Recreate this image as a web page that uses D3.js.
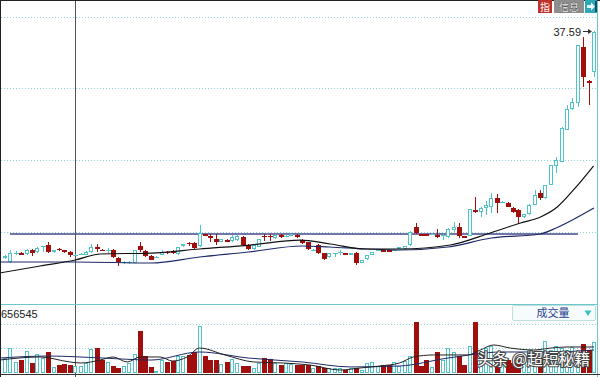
<!DOCTYPE html>
<html>
<head>
<meta charset="utf-8">
<script src="https://cdn.jsdelivr.net/npm/d3@7"></script>
<style>
body { margin: 0; background: #fff; }
svg { display: block; font-family: "Liberation Sans", Arial, sans-serif; }
</style>
</head>
<body>
<div class="chart"></div>
<script>
let FRAME_WIDTH = 600;
let FRAME_HEIGHT = 377;

// daily bars: [open, high, low, close]
let candles = [
  [8.93, 9.31, 8.80, 9.18], [8.43, 9.88, 8.30, 9.56], [9.50, 9.81, 9.31, 9.62], [9.56, 9.69, 9.31, 9.37],
  [9.44, 10.07, 9.31, 9.94], [9.94, 10.07, 9.18, 9.56], [9.69, 10.32, 9.56, 10.19], [10.26, 10.45, 9.69, 10.45],
  [10.57, 11.01, 9.56, 9.69], [9.69, 9.94, 9.56, 9.88], [10.07, 10.19, 9.81, 9.94], [9.88, 10.00, 9.62, 9.75],
  [9.69, 9.81, 9.09, 9.37], [9.25, 9.44, 9.18, 9.37], [9.31, 9.56, 9.25, 9.44], [9.31, 9.81, 9.25, 9.75],
  [9.69, 10.70, 9.62, 10.32], [10.38, 10.76, 9.75, 10.07], [10.00, 10.13, 9.81, 9.88], [9.88, 10.19, 9.56, 10.00],
  [9.94, 10.07, 8.99, 9.06], [8.93, 9.06, 7.92, 8.43], [8.30, 8.55, 8.18, 8.43], [8.30, 8.55, 8.18, 8.43],
  [8.34, 10.00, 8.30, 9.94], [10.45, 10.89, 9.73, 9.94], [9.81, 9.94, 9.06, 9.18], [9.18, 9.31, 8.62, 8.68],
  [8.93, 9.18, 8.87, 9.12], [9.31, 9.94, 9.25, 9.69], [9.69, 9.81, 9.50, 9.56], [9.69, 9.88, 9.44, 9.56],
  [9.44, 10.38, 9.37, 10.32], [10.51, 10.76, 10.32, 10.64], [10.83, 11.01, 10.51, 10.70], [10.83, 10.95, 10.13, 10.19],
  [10.45, 13.10, 10.38, 12.09], [11.96, 12.02, 11.65, 11.71], [11.65, 12.02, 11.01, 11.52], [11.33, 12.02, 10.57, 10.95],
  [10.95, 11.39, 10.89, 11.33], [11.20, 11.27, 10.89, 10.95], [11.08, 11.84, 11.01, 11.58], [11.20, 11.96, 11.14, 11.71],
  [11.58, 11.65, 10.51, 10.57], [10.57, 10.64, 10.00, 10.07], [10.07, 10.64, 10.00, 10.57], [10.32, 11.39, 10.26, 11.33],
  [11.77, 12.02, 11.14, 11.65], [11.77, 12.02, 11.14, 11.65], [11.46, 11.90, 11.39, 11.84], [11.84, 11.90, 11.52, 11.58],
  [11.65, 11.84, 11.58, 11.77], [11.77, 11.96, 11.71, 11.90], [11.84, 11.90, 11.52, 11.58], [11.20, 11.27, 10.76, 10.83],
  [10.95, 11.01, 10.00, 10.07], [9.88, 10.07, 9.81, 10.00], [10.57, 10.64, 9.50, 9.56], [9.56, 9.62, 8.68, 8.81],
  [9.06, 9.62, 8.99, 9.56], [9.50, 9.62, 9.06, 9.62], [9.62, 9.88, 9.31, 9.75], [9.56, 9.62, 9.25, 9.31],
  [9.31, 9.62, 9.25, 9.56], [9.56, 9.75, 8.05, 8.30], [8.30, 8.74, 8.24, 8.68], [8.81, 9.37, 8.74, 9.31],
  [9.31, 9.75, 9.25, 9.69], [9.88, 10.07, 9.81, 10.00], [9.88, 10.00, 9.69, 9.75], [9.88, 10.00, 9.69, 9.75],
  [9.88, 10.07, 9.81, 10.00], [10.13, 10.32, 10.07, 10.26], [10.07, 10.51, 10.00, 10.45], [10.57, 12.28, 10.51, 12.21],
  [12.85, 13.35, 11.96, 12.09], [11.96, 12.02, 11.71, 11.77], [11.90, 11.96, 11.71, 11.77], [11.90, 12.09, 11.84, 12.02],
  [11.84, 12.59, 11.46, 11.58], [11.71, 11.96, 11.20, 11.84], [11.58, 12.66, 11.52, 12.59], [12.47, 13.48, 12.21, 12.85],
  [12.85, 13.35, 11.46, 11.71], [11.65, 11.71, 11.46, 11.52], [11.71, 15.18, 11.65, 15.12], [14.93, 16.63, 14.61, 14.80],
  [14.74, 15.43, 14.15, 15.24], [15.24, 16.16, 14.36, 15.62], [15.37, 17.14, 14.61, 16.51], [16.51, 17.01, 14.61, 15.88],
  [15.94, 16.19, 15.88, 16.06], [15.88, 15.94, 15.31, 15.37], [15.24, 15.31, 14.67, 14.74], [14.99, 15.06, 13.35, 14.11],
  [14.11, 14.55, 14.04, 14.49], [14.49, 15.69, 14.42, 15.62], [15.62, 17.52, 15.56, 16.89], [17.14, 17.52, 16.25, 16.51],
  [16.51, 18.21, 16.44, 18.15], [18.15, 20.73, 18.09, 20.67], [20.55, 21.68, 19.66, 21.30], [21.05, 25.47, 20.99, 25.34],
  [25.09, 28.25, 25.03, 27.74], [27.74, 29.13, 27.61, 28.62], [28.50, 35.88, 27.99, 35.82], [35.57, 36.83, 30.52, 31.78],
  [31.28, 31.34, 28.25, 31.02], [32.41, 37.59, 31.78, 37.40]
];

let volumes = [
  156000, 260000, 115000, 135000, 229000, 104000, 198000, 156000, 219000, 63000,
  83000, 94000, 83000, 73000, 73000, 104000, 250000, 260000, 135000, 115000,
  73000, 52000, 73000, 104000, 198000, 438000, 177000, 63000, 21000, 135000,
  115000, 125000, 177000, 177000, 188000, 219000, 490000, 177000, 135000, 135000,
  94000, 115000, 146000, 104000, 73000, 73000, 52000, 104000, 156000, 146000,
  104000, 83000, 104000, 94000, 83000, 83000, 83000, 52000, 73000, 52000,
  52000, 52000, 52000, 31000, 52000, 52000, 31000, 104000, 115000, 73000,
  83000, 83000, 115000, 73000, 125000, 177000, 531000, 73000, 135000, 58000,
  219000, 135000, 260000, 219000, 177000, 83000, 281000, 531000, 219000, 260000,
  281000, 135000, 208000, 135000, 104000, 135000, 177000, 240000, 177000, 156000,
  333000, 240000, 281000, 260000, 240000, 271000, 208000, 302000, 240000, 323000
];

// moving averages: [bar index, value]
let maShort = [[-1, 7.04], [6.5, 7.92], [13, 8.68], [17.6, 9.44], [27, 9.56], [36, 10.07], [45.4, 10.57],
  [54.6, 11.20], [60.2, 10.70], [66.7, 10.07], [73.1, 10.07], [82.4, 10.57], [89.8, 12.09], [95.4, 13.35],
  [99.1, 14.11], [102.2, 15.37], [105.2, 17.52], [108.9, 20.55]];
let maLong = [[-1, 8.43], [13, 8.43], [27, 8.30], [36, 9.06], [45, 9.69], [55, 10.45], [60, 10.32],
  [67, 10.07], [73, 9.94], [82, 10.32], [90, 11.46], [99, 11.96], [102, 12.72], [105, 13.73], [109, 15.24]];
let volMa1 = [[-1, 135000], [6.5, 167000], [12, 115000], [14, 104000], [17.6, 135000], [20, 167000], [22.6, 115000],
  [25, 167000], [28.7, 167000], [31, 125000], [33.7, 167000], [36, 260000], [40.7, 188000], [46, 115000],
  [51.5, 104000], [56.5, 83000], [62, 31000], [65.7, 52000], [69.4, 73000], [73, 104000], [75.6, 167000],
  [79.3, 188000], [85.6, 188000], [88, 240000], [90.4, 292000], [93.5, 260000], [97.8, 240000], [101, 260000],
  [104, 271000], [109, 271000]];
let volMa2 = [[-1, 156000], [8, 177000], [18, 156000], [27, 135000], [36, 219000], [45, 156000], [55, 115000],
  [64, 63000], [73, 73000], [82, 156000], [92, 219000], [101, 219000], [109, 240000]];

let priceGrid = [12.21, 21.30, 30.39, 39.35];
let volGrid = [260000, 510000];
let trendLevel = 11.9;
let topPrice = 37.59;
let volMaxLabel = "656545";

const UP = "#4fc4c9";
const DOWN = "#a00e0e";

let svg = d3.select(".chart").append("svg")
  .attr("width", FRAME_WIDTH)
  .attr("height", FRAME_HEIGHT)
  .attr("shape-rendering", "crispEdges");

const X = d3.scaleLinear().domain([0, candles.length - 1]).range([5, 594]);
const Y = d3.scaleLinear().domain([3, 41.5]).range([305, 0]);
const VY = d3.scaleLinear().domain([0, 656545]).range([373, 310]);

let defs = svg.append("defs");
defs.append("clipPath").attr("id", "clipMain").append("rect")
  .attr("x", 1).attr("y", 1).attr("width", 596).attr("height", 303);
defs.append("clipPath").attr("id", "clipVol").append("rect")
  .attr("x", 1).attr("y", 305).attr("width", 596).attr("height", 69);

// grid lines
svg.selectAll("line.pgrid").data(priceGrid).enter().append("line")
  .attr("x1", 1).attr("x2", 597)
  .attr("y1", d => Math.round(Y(d)) + 0.5).attr("y2", d => Math.round(Y(d)) + 0.5)
  .attr("stroke", "#8fd3d6").attr("stroke-dasharray", "1,2");
svg.selectAll("line.vgrid").data(volGrid).enter().append("line")
  .attr("x1", 1).attr("x2", 597)
  .attr("y1", d => Math.round(VY(d)) + 0.5).attr("y2", d => Math.round(VY(d)) + 0.5)
  .attr("stroke", "#8fd3d6").attr("stroke-dasharray", "1,2");

// trend line
svg.append("line")
  .attr("x1", 10).attr("x2", 578)
  .attr("y1", Y(trendLevel)).attr("y2", Y(trendLevel))
  .attr("stroke", "#7474a8").attr("stroke-width", 2);

// crosshair
svg.append("line")
  .attr("x1", 75.5).attr("x2", 75.5).attr("y1", 0).attr("y2", FRAME_HEIGHT)
  .attr("stroke", "#555");

// candles
let MAIN = svg.append("g").attr("clip-path", "url(#clipMain)");
MAIN.selectAll("g.k").data(candles).enter().append("g")
  .each(function (d, i) {
    const [o, h, l, c] = d;
    const up = c >= o;
    const g = d3.select(this);
    const px = Math.round(X(i));
    const top = Math.round(Y(Math.max(o, c)));
    const bot = Math.round(Y(Math.min(o, c)));
    const yh = Math.round(Y(h)), yl = Math.round(Y(l));
    const col = up ? UP : DOWN;
    g.append("line").attr("x1", px + 0.5).attr("x2", px + 0.5)
      .attr("y1", yh).attr("y2", yl).attr("stroke", col);
    if (bot - top < 2) {
      g.append("line").attr("x1", px - 2).attr("x2", px + 3)
        .attr("y1", top + 0.5).attr("y2", top + 0.5).attr("stroke", col);
    } else if (up) {
      g.append("rect").attr("x", px - 1.5).attr("y", top + 0.5)
        .attr("width", 3).attr("height", bot - top - 1)
        .attr("fill", "#fff").attr("stroke", col);
    } else {
      g.append("rect").attr("x", px - 2).attr("y", top)
        .attr("width", 5).attr("height", bot - top).attr("fill", col);
    }
  });

let line = d3.line().x(d => X(d[0])).curve(d3.curveMonotoneX);
MAIN.append("path").datum(maLong)
  .attr("d", line.y(d => Y(d[1])))
  .attr("fill", "none").attr("stroke", "#1d2a66").attr("stroke-width", 1.2)
  .attr("shape-rendering", "auto");
MAIN.append("path").datum(maShort)
  .attr("d", line.y(d => Y(d[1])))
  .attr("fill", "none").attr("stroke", "#111").attr("stroke-width", 1.2)
  .attr("shape-rendering", "auto");

// volume bars
let VOL = svg.append("g").attr("clip-path", "url(#clipVol)");
VOL.selectAll("g.v").data(volumes).enter().append("g")
  .each(function (v, i) {
    const [o, , , c] = candles[i];
    const up = c >= o;
    const px = Math.round(X(i));
    const top = Math.round(VY(v));
    const base = Math.round(VY(0));
    const g = d3.select(this);
    if (up) {
      g.append("rect").attr("x", px - 1.5).attr("y", top + 0.5)
        .attr("width", 3).attr("height", Math.max(base - top - 1, 0))
        .attr("fill", "#fff").attr("stroke", UP);
    } else {
      g.append("rect").attr("x", px - 2).attr("y", top)
        .attr("width", 5).attr("height", base - top).attr("fill", DOWN);
    }
  });

VOL.append("path").datum(volMa2)
  .attr("d", line.y(d => VY(d[1])))
  .attr("fill", "none").attr("stroke", "#1d2a66").attr("stroke-width", 1)
  .attr("shape-rendering", "auto");
VOL.append("path").datum(volMa1)
  .attr("d", line.y(d => VY(d[1])))
  .attr("fill", "none").attr("stroke", "#222").attr("stroke-width", 1)
  .attr("shape-rendering", "auto");

// panel frame
svg.append("line").attr("x1", 0).attr("x2", 598).attr("y1", 304.5).attr("y2", 304.5).attr("stroke", "#6cc8cc");
svg.append("line").attr("x1", 597.5).attr("x2", 597.5).attr("y1", 0).attr("y2", 377).attr("stroke", "#6cc8cc");
svg.append("line").attr("x1", 0).attr("x2", 600).attr("y1", 0.5).attr("y2", 0.5).attr("stroke", "#222");
svg.append("line").attr("x1", 0.5).attr("x2", 0.5).attr("y1", 0).attr("y2", 377).attr("stroke", "#222");
svg.append("line").attr("x1", 0).attr("x2", 600).attr("y1", 374.5).attr("y2", 374.5).attr("stroke", "#333");

// max price marker
let yTop = Math.round(Y(topPrice)) + 0.5;
svg.append("text").attr("x", 581).attr("y", yTop + 4)
  .attr("text-anchor", "end").attr("font-size", 11).attr("fill", "#222")
  .text(topPrice.toFixed(2));
svg.append("line").attr("x1", 583).attr("x2", 590).attr("y1", yTop).attr("y2", yTop).attr("stroke", "#333");
svg.append("path").attr("d", `M588,${yTop - 2.5}L592,${yTop}L588,${yTop + 2.5}Z`).attr("fill", "#333")
  .attr("shape-rendering", "auto");

// volume label and selector
svg.append("text").attr("x", 1).attr("y", 318).attr("font-size", 11).attr("fill", "#222").text(volMaxLabel);
svg.append("rect").attr("x", 512.5).attr("y", 305.5).attr("width", 83).attr("height", 15)
  .attr("rx", 2).attr("fill", "#f6fbfb").attr("stroke", "#bfdede");
svg.append("text").attr("x", 553).attr("y", 317).attr("text-anchor", "middle")
  .attr("font-family", "'Noto Sans CJK SC', sans-serif").attr("font-size", 11)
  .attr("fill", "#1f3f8f").text("成交量");
svg.append("path").attr("d", "M584.5,310.5L591.5,310.5L588,316Z").attr("fill", "#34c2c2")
  .attr("shape-rendering", "auto");

// top-right buttons
svg.append("rect").attr("x", 538).attr("y", 0).attr("width", 14).attr("height", 13).attr("fill", "#c0302a");
svg.append("text").attr("x", 545).attr("y", 11).attr("text-anchor", "middle")
  .attr("font-family", "'Noto Sans CJK SC', sans-serif").attr("font-size", 10).attr("fill", "#fff").text("指");
svg.append("rect").attr("x", 554).attr("y", 0).attr("width", 30).attr("height", 13).attr("fill", "#8e8e8e");
svg.append("text").attr("x", 569).attr("y", 11).attr("text-anchor", "middle")
  .attr("font-family", "'Noto Sans CJK SC', sans-serif").attr("font-size", 10)
  .attr("fill", "#eee").attr("stroke", "#444").attr("stroke-width", 0.6).attr("paint-order", "stroke")
  .text("信息");
svg.append("rect").attr("x", 585).attr("y", 0).attr("width", 12).attr("height", 13).attr("fill", "#2fa9b9");
svg.append("path").attr("d", "M587,5L591,5L591,2.5L595,6.5L591,10.5L591,8L587,8Z").attr("fill", "#e8fbff")
  .attr("shape-rendering", "auto");
svg.append("rect").attr("x", 595).attr("y", 1).attr("width", 2).attr("height", 11).attr("fill", "#1a4a66");

// watermark
svg.append("text").attr("x", 477).attr("y", 365)
  .attr("font-family", "'Noto Sans CJK SC', sans-serif").attr("font-size", 16)
  .attr("textLength", 113).attr("lengthAdjust", "spacingAndGlyphs")
  .attr("fill", "#fff").attr("stroke", "#444").attr("stroke-width", 2.2)
  .attr("paint-order", "stroke").attr("stroke-linejoin", "round")
  .text("头条 @超短秘籍");
</script>
</body>
</html>
